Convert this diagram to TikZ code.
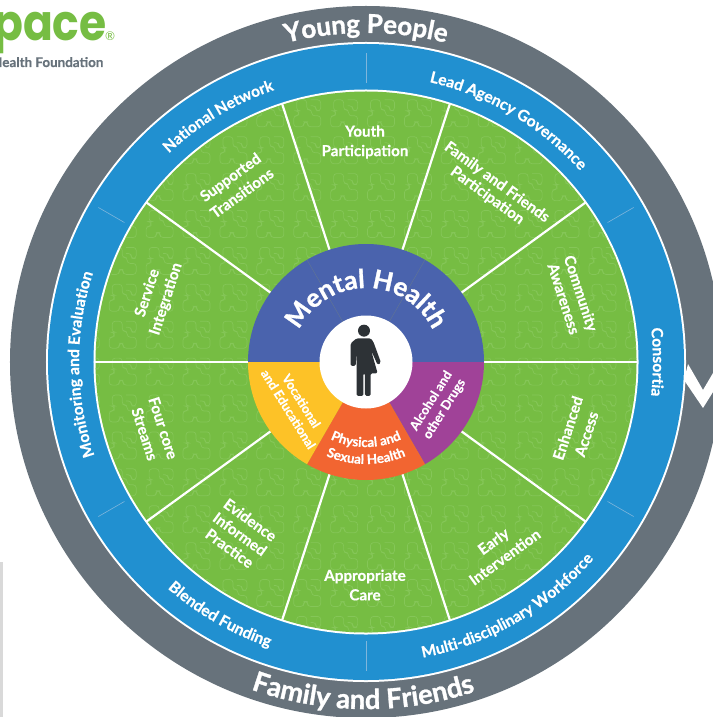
\documentclass[tikz,border=0pt]{standalone}
\usepackage{fontspec}
\setmainfont{Lato}[BoldFeatures={FakeBold=0.5}]
\newfontfamily\logofont{Poppins}
\newfontfamily\hvy{Lato}[BoldFeatures={FakeBold=1.2}]
\usetikzlibrary{decorations.text}
\definecolor{ringgray}{HTML}{67727B}
\definecolor{ringblue}{HTML}{2190D0}
\definecolor{tickblue}{HTML}{7FB6DC}
\definecolor{leaf}{HTML}{76BD43}
\definecolor{leaflight}{HTML}{85C658}
\definecolor{hubblue}{HTML}{4A63AD}
\definecolor{hubline}{HTML}{5F7396}
\definecolor{hubpurple}{HTML}{A04298}
\definecolor{huborange}{HTML}{F26531}
\definecolor{hubyellow}{HTML}{FDC227}
\definecolor{figdark}{HTML}{2D3236}
\newcommand\fs[2]{\fontsize{#1bp}{#2bp}\selectfont}
% arc text: [font], centre angle, radius, half span, size, text
\newcommand\topText[6][]{\path[decorate,decoration={text along path,text align=center,text={|#1\fs{#5}{#5}\bfseries\color{white}|#6}}]
  (#2+#4:#3bp) arc[start angle=#2+#4,end angle=#2-#4,radius=#3bp];}
\newcommand\botText[6][]{\path[decorate,decoration={text along path,text align=center,text={|#1\fs{#5}{#5}\bfseries\color{white}|#6}}]
  (#2-#4:#3bp) arc[start angle=#2-#4,end angle=#2+#4,radius=#3bp];}
\newcommand\motif{%
 \draw[leaflight,line width=.7bp,rounded corners=3bp]
  (3,0)--(13,0)--(13,-10)--(18,-10)--(18,-16)--(27,-16)--(27,-27)--(14,-27)--(14,-22)--(10,-22)--(10,-27)--(0,-27)--(0,-16)--(5,-16)--(5,-11)--(3,-11)--cycle;
 \draw[leaflight,line width=.7bp,rounded corners=3bp]
  (17,0)--(27,0)--(27,-11)--(22,-11)--(22,-6)--(17,-6);}
\tikzset{
  seglabel/.style={text=white,align=center,font=\fs{15.2}{19.5}\bfseries,inner sep=0pt},
  hublabel/.style={text=white,align=center,font=\fs{12.8}{15.5}\bfseries,inner sep=0pt},
  spoke/.style={white,line width=2.2bp},
  ringtick/.style={tickblue,line width=.6bp},
  hubtick/.style={hubline,line width=.5bp}
}
\begin{document}
\begin{tikzpicture}[x=1bp,y=1bp]
\useasboundingbox (0,0) rectangle (713,-717);
\clip (0,0) rectangle (713,-717);
% logo
\node[anchor=base west,inner sep=0pt,text=leaf,font=\fs{50}{50}\logofont\bfseries,xscale=.88] (logo) at (-7,-41) {pace};
\node[anchor=base west,inner sep=0pt,text=leaf,font=\fs{12}{12}] (reg) at (105,-41) {®};
\node[anchor=base west,inner sep=0pt,text=ringgray,font=\fs{13.4}{14}\bfseries] (found) at (-8,-67) {Health Foundation};
\fill[gray!30] (0,-562) rectangle (3,-717);
\begin{scope}[shift={(366,-362)}]
 \fill[ringgray] (0,0) circle (356bp);
 \fill[white] (0,0) circle (320bp);
 \fill[ringblue] (0,0) circle (318bp);
 \fill[white] (0,0) circle (272.5bp);
 \fill[leaf] (0,0) circle (270.5bp);
 \begin{scope}
  \clip (0,0) circle (270.5bp);
  \foreach \i in {-3,...,12}{\foreach \j in {-7,...,9}{
    \begin{scope}[shift={(-183+\i*36.9,-33+\j*36.9)}]\motif\end{scope}}}
 \end{scope}
 \foreach \a in {0,36,...,324}{\draw[spoke] (\a:118bp)--(\a:272bp);}
 \foreach \a in {30,90,...,330}{\draw[ringtick] (\a:279bp)--(\a:309bp);}
 % hub
 \fill[hubblue] (0,0) -- (0:118bp) arc[start angle=0,end angle=180,radius=118bp] -- cycle;
 \fill[hubpurple] (0,0) -- (0:118bp) arc[start angle=0,end angle=-60,radius=118bp] -- cycle;
 \fill[huborange] (0,0) -- (-60:118bp) arc[start angle=-60,end angle=-120,radius=118bp] -- cycle;
 \fill[hubyellow] (0,0) -- (-120:118bp) arc[start angle=-120,end angle=-180,radius=118bp] -- cycle;
 \foreach \a in {60,120}{\draw[hubtick] (\a:46bp)--(\a:118bp);}
 \fill[white] (0,0) circle (46.5bp);
 % ring texts
 \topText[\hvy]{90}{329}{60}{26}{Young People}
 \botText[\hvy]{-90.5}{347}{60}{27.3}{Family and Friends}
 \topText{121}{287}{40}{15.5}{National Network}
 \topText{59.5}{287}{40}{15.7}{Lead Agency Governance}
 \topText{0}{287}{40}{15.7}{Consortia}
 \botText{-60}{301}{40}{15.6}{Multi-disciplinary Workforce}
 \botText{-120}{301}{40}{15.7}{Blended Funding}
 \topText{180.5}{287}{40}{15.7}{Monitoring and Evaluation}
 \topText[\hvy]{90}{74}{80}{26}{Mental Health}
 \botText{-90}{85}{50}{13.3}{Physical and}
 \botText{-90}{102}{45}{13.3}{Sexual Health}
\end{scope}
% chevron
\fill[white] (688,-364)--(703,-390)--(713,-373)--(713,-392)--(703,-408)--(684,-380)--cycle;
% segment labels
\node[seglabel] (s1) at (365,-142) {Youth\\Participation};
\node[seglabel,rotate=-36] (s2) at (492,-189) {Family and Friends\\[-3bp]Participation};
\node[seglabel,rotate=-72] (s3) at (572.5,-296) {Community\\[-1.5bp]Awareness};
\node[seglabel,rotate=72] (s4) at (577,-431) {Enhanced\\Access};
\node[seglabel,rotate=36] (s5) at (499,-549) {Early\\Intervention};
\node[seglabel] (s6) at (365,-585) {Appropriate\\Care};
\node[seglabel,rotate=-36] (s7) at (240,-534) {Evidence\\[-2bp]Informed\\[-2bp]Practice};
\node[seglabel,rotate=-72] (s8) at (154,-431) {Four core\\Streams};
\node[seglabel,rotate=72] (s9) at (157,-296) {Service\\Integration};
\node[seglabel,rotate=36] (s10) at (236,-185) {Supported\\Transitions};
\node[hublabel,rotate=58] (h1) at (438,-405) {Alcohol and\\other Drugs};
\node[hublabel,rotate=-58] (h2) at (295,-405) {Vocational\\and Educational};
% figure
\begin{scope}[shift={(240,-240)},x=.3333bp,y=-.3333bp]
 \fill[figdark] (372,272) circle (6bp);
 \fill[figdark,rounded corners=1.5bp] (350,295)--(392,295)--(400,305)--(423,368)--(413,375)--(393,330)--(413,400)--(392,400)--(392,468)--(375,468)--(375,400)--(370,400)--(370,468)--(350,468)--(350,385)--(350,330)--(347,378)--(332,378)--(332,310)--cycle;
\end{scope}
\end{tikzpicture}
\end{document}
